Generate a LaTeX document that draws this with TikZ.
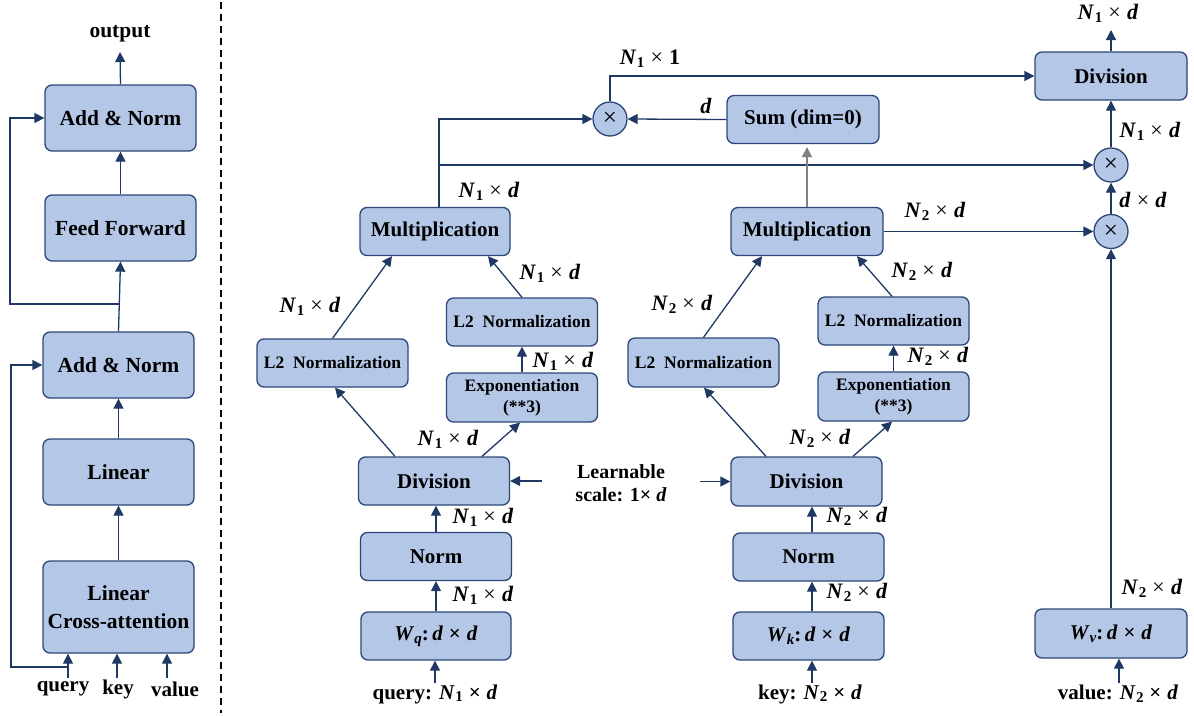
\documentclass[tikz,border=0pt]{standalone}
\usepackage{fontspec}
\setmainfont{Liberation Serif}
\usetikzlibrary{arrows.meta,calc}
\definecolor{bfill}{RGB}{180,199,231}
\definecolor{bdraw}{RGB}{44,70,120}
\definecolor{arrc}{RGB}{31,56,100}
\definecolor{garr}{RGB}{128,128,128}
\newcommand\bi[1]{\textbf{\textit{#1}}}
\newcommand\sbx[1]{\raisebox{-0.3ex}{\fontsize{15}{15}\selectfont #1}}
\newcommand\Ns[1]{\bi{N}\kern0.5pt\sbx{\textbf{#1}}}
\newcommand\tx{\hspace{0.28em}×\hspace{0.28em}}
\newcommand\Nd[2]{\Ns{#1}\tx\bi{#2}}
\begin{document}
\begin{tikzpicture}[x=1pt,y=-1pt,
 box/.style={draw=bdraw,fill=bfill,line width=1.3pt,rounded corners=7pt,align=center,inner sep=0pt,minimum width=151pt,minimum height=48pt,font=\fontsize{21}{24}\selectfont\bfseries},
 lbox/.style={box,minimum height=66pt,font=\fontsize{21.5}{28}\selectfont\bfseries},
 sbox/.style={box,font=\fontsize{17.5}{21}\selectfont\bfseries},
 circ/.style={circle,draw=bdraw,fill=bfill,line width=1.3pt,minimum size=34pt,inner sep=0pt,font=\fontsize{25}{25}\selectfont},
 arr/.style={draw=arrc,line width=1.3pt,-{Triangle[length=10pt,width=10pt]}},
 garrow/.style={draw=garr,line width=1.3pt,-{Triangle[length=10pt,width=10pt]}},
 lbl/.style={font=\fontsize{22}{24}\selectfont,inner sep=0pt},
 txt/.style={font=\fontsize{21}{24}\selectfont\bfseries,inner sep=0pt,align=center},
]
\useasboundingbox (0,0) rectangle (1194,715);

% ---------------- left panel ----------------
\node[lbox] (an2) at (120.5,118) {Add \& Norm};
\node[lbox] (ff) at (120.5,228) {Feed Forward};
\node[lbox] (an1) at (118.5,365) {Add \& Norm};
\node[lbox] (lin) at (118.5,472) {Linear};
\node[lbox,minimum height=92pt] (lca) at (118.5,607) {Linear\\Cross-attention};
\node[txt,font=\fontsize{21.5}{24}\selectfont\bfseries] (outl) at (120,34) {output};
\node[txt] (ql) at (63,689) {query};
\node[txt] (kl) at (118,689) {key};
\node[txt] (vl) at (175,689) {value};
\coordinate (outtip) at (120,52);
\coordinate (qa) at (68,678);
\coordinate (ka) at (117,678);
\coordinate (va) at (167,678);
\coordinate (s1) at (119.5,304);
\coordinate (s2) at (68,667);

\draw[arr] (an2.north) -- (outtip);
\draw[arr] (ff.north) -- (an2.south);
\draw[arr] (an1.north) -- (ff.south);
\draw[arr] (lin.north) -- (an1.south);
\draw[arr] (lca.north) -- (lin.south);
\draw[arr] (qa) -- (qa |- lca.south);
\draw[arr] (ka) -- (ka |- lca.south);
\draw[arr] (va) -- (va |- lca.south);
\draw[arr] (s1) -- ++(-109.5,0) |- (an2.west);
\draw[arr] (s2) -- ++(-57,0) |- (an1.west);

\draw[line width=1.2pt,dash pattern=on 7pt off 5pt] (221,2) -- (221,713);

% ---------------- query branch ----------------
\node[box,minimum width=150pt] (wq) at (436,636) {\bi{W}\sbx{\bi{q}}\textbf{:}\,\bi{d}\tx\bi{d}};
\node[box] (norm) at (436,556.5) {Norm};
\node[box] (div) at (434,481) {Division};
\node[sbox] (l2l) at (332.5,363) {L2\ \ Normalization};
\node[sbox,minimum height=49pt] (exp) at (522,397.5) {Exponentiation\\(**3)};
\node[sbox] (l2r) at (522,322) {L2\ \ Normalization};
\node[box,minimum width=150pt] (mult) at (435,231.5) {Multiplication};
\node[txt] (qlab) at (435,694) {query: \Nd{1}{d}};
\coordinate (qin) at (435,683);

\draw[arr] (qin) -- (wq.south -| qin);
\draw[arr] (wq.north) -- (norm.south);
\draw[arr] (norm.north) -- (norm.north |- div.south);
\draw[arr] ([xshift=-39pt]div.north) -- ([xshift=2.5pt]l2l.south);
\draw[arr] ([xshift=48pt]div.north) -- ([xshift=-2pt]exp.south);
\draw[arr] (exp.north) -- (l2r.south);
\draw[arr] (l2l.north) -- ([xshift=-43pt]mult.south);
\draw[arr] (l2r.north) -- ([xshift=53pt]mult.south);

\node[lbl] at (483,595) {\Nd{1}{d}};
\node[lbl] at (483,517) {\Nd{1}{d}};
\node[lbl] at (448,439) {\Nd{1}{d}};
\node[lbl] at (310,306) {\Nd{1}{d}};
\node[lbl] at (563,361) {\Nd{1}{d}};
\node[lbl] at (550,273) {\Nd{1}{d}};
\node[lbl] at (489,191) {\Nd{1}{d}};

% ---------------- learnable scale ----------------
\node[txt,font=\fontsize{20}{23}\selectfont\bfseries] (learn) at (621,483.5) {Learnable\\scale: 1×\hspace{0.25em}\bi{d}};
\coordinate (la) at (542,481);
\coordinate (ra) at (700,481.5);
\draw[arr] (la) -- (div.east);

% ---------------- key branch ----------------
\node[box] (wk) at (808.5,636) {\bi{W}\sbx{\bi{k}}\textbf{:}\,\bi{d}\tx\bi{d}};
\node[box] (norm2) at (808.5,557) {Norm};
\node[box,minimum height=49pt] (div2) at (806.5,481.5) {Division};
\node[sbox,minimum height=49pt] (l2l2) at (703.5,362.5) {L2\ \ Normalization};
\node[sbox,minimum height=49pt] (exp2) at (893.5,396.5) {Exponentiation\\(**3)};
\node[sbox] (l2r2) at (893.5,321) {L2\ \ Normalization};
\node[box,minimum width=152pt] (mult2) at (807,231.5) {Multiplication};
\node[txt] (klab) at (810,694) {key: \Nd{2}{d}};
\coordinate (kin) at (812,683);

\draw[arr] (ra) -- (div2.west);
\draw[arr] (kin) -- (kin |- wk.south);
\draw[arr] (kin |- wk.north) -- (kin |- norm2.south);
\draw[arr] (kin |- norm2.north) -- (kin |- div2.south);
\draw[arr] ([xshift=-40.5pt]div2.north) -- ([xshift=0.5pt]l2l2.south);
\draw[arr] ([xshift=46.5pt]div2.north) -- ([xshift=-1.5pt]exp2.south);
\draw[arr] (exp2.north) -- (l2r2.south);
\draw[arr] (l2l2.north) -- ([xshift=-45pt]mult2.south);
\draw[arr] ([xshift=-1.5pt]l2r2.north) -- ([xshift=50pt]mult2.south);

\node[lbl] at (857,592) {\Nd{2}{d}};
\node[lbl] at (857,516) {\Nd{2}{d}};
\node[lbl] at (820,438) {\Nd{2}{d}};
\node[lbl] at (682,304) {\Nd{2}{d}};
\node[lbl] at (938,356) {\Nd{2}{d}};
\node[lbl] at (922,271) {\Nd{2}{d}};

% ---------------- top part ----------------
\node[circ] (c1) at (610,119) {×};
\node[box,minimum width=152pt] (sum) at (803,119.5) {Sum (dim=0)};
\node[box,minimum width=152pt] (divo) at (1111,76) {Division};
\node[circ] (c2) at (1111,165) {×};
\node[circ] (c3) at (1111,231.5) {×};
\node[box,minimum width=152pt,minimum height=49pt] (wv) at (1111,633.5) {\bi{W}\sbx{\bi{v}}\textbf{:}\,\bi{d}\tx\bi{d}};
\node[txt] (vlab) at (1118,694) {value: \Nd{2}{d}};
\coordinate (vin) at (1119,683);
\coordinate (otip) at (1111,30);
\coordinate (j1) at (439,165);

\draw[arr] ([xshift=4pt]mult.north) |- (c1.west);
\draw[arr] (j1) -- (c2.west);
\draw[arr] (sum.west) -- (c1.east);
\draw[arr] (c1.north) |- (divo.west);
\draw[garrow,shorten >=3pt] (mult2.north) -- (mult2.north |- sum.south);
\draw[arr] (mult2.east) -- (c3.west);
\draw[arr] (c3.north) -- (c2.south);
\draw[arr] (c2.north) -- (divo.south);
\draw[arr] (divo.north) -- (otip);
\draw[arr] (wv.north) -- (c3.south);
\draw[arr] (vin) -- (vin |- wv.south);

\node[lbl] at (650,59) {\Ns{1}\tx\textbf{1}};
\node[lbl] at (706,106) {\bi{d}};
\node[lbl] at (1108,13) {\Nd{1}{d}};
\node[lbl] at (1150,131) {\Nd{1}{d}};
\node[lbl] at (1143,200) {\bi{d}\tx\bi{d}};
\node[lbl] at (935,211) {\Nd{2}{d}};
\node[lbl] at (1152,588) {\Nd{2}{d}};
\end{tikzpicture}
\end{document}
